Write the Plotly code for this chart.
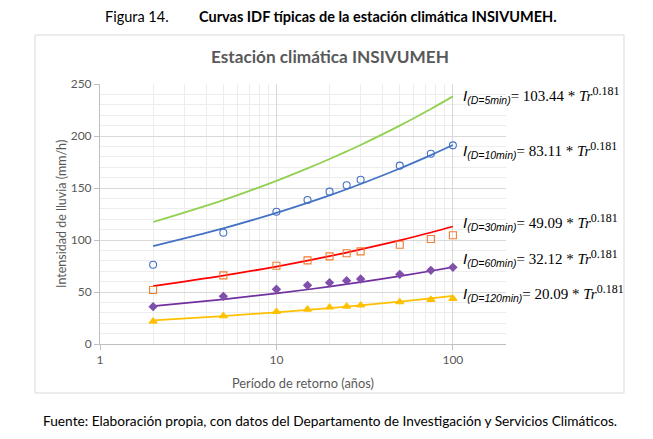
import plotly.graph_objects as go

# return periods (years)
periodos = [2, 5, 10, 15, 20, 25, 30, 50, 75, 100]

# fitted IDF curves (mm/h)
curva_5min = [117.3, 138.4, 156.9, 168.9, 177.9, 185.2, 191.4, 210.0, 226.0, 238.1]
curva_10min = [94.2, 111.2, 126.1, 135.7, 142.9, 148.8, 153.8, 168.7, 181.6, 191.3]
curva_30min = [55.7, 65.7, 74.5, 80.1, 84.4, 87.9, 90.9, 99.7, 107.2, 113.0]
curva_60min = [36.4, 43.0, 48.7, 52.4, 55.2, 57.5, 59.4, 65.2, 70.2, 73.9]
curva_120min = [22.8, 26.9, 30.5, 32.8, 34.6, 36.0, 37.2, 40.8, 43.9, 46.2]

# observed intensities (mm/h)
obs_10min = [76.2, 107.0, 127.2, 138.5, 146.5, 152.6, 158.0, 171.5, 183.0, 191.0]
obs_30min = [51.9, 66.0, 75.3, 80.4, 84.3, 87.2, 89.1, 95.5, 101.0, 104.5]
obs_60min = [35.9, 45.8, 52.6, 56.4, 59.0, 60.9, 62.5, 67.0, 70.8, 73.7]
obs_120min = [21.8, 26.9, 31.0, 33.3, 35.3, 36.2, 37.2, 40.4, 42.6, 43.6]

# equation labels: duration, coefficient, exponent, y position (mm/h)
duraciones = ["5min", "10min", "30min", "60min", "120min"]
coeficientes = ["103.44", "83.11", "49.09", "32.12", "20.09"]
exponente = "0.181"
eq_y = [239.5, 186.5, 117.5, 82.5, 49.0]

x_ticks = [1, 10, 100]
x_minor = [2, 3, 4, 5, 6, 7, 8, 9, 20, 30, 40, 50, 60, 70, 80, 90, 200]

GRAY = "#595959"
FONT = "Lato, Open Sans, sans-serif"

fig = go.Figure()

curvas = [
    (curva_5min, "#92D050"),
    (curva_10min, "#4472C4"),
    (curva_30min, "#FF0000"),
    (curva_60min, "#7030A0"),
    (curva_120min, "#FFC000"),
]
for vals, color in curvas:
    fig.add_trace(go.Scatter(
        x=periodos, y=vals, mode="lines", line=dict(color=color, width=1.75, shape="spline"),
        hoverinfo="skip",
    ))

observados = [
    (obs_10min, "circle-open", "#4472C4", 7),
    (obs_30min, "square-open", "#ED7D31", 7),
    (obs_60min, "diamond", "#7F4FAA", 6),
    (obs_120min, "triangle-up", "#FFC000", 7),
]
for vals, symbol, color, size in observados:
    fig.add_trace(go.Scatter(
        x=periodos, y=vals, mode="markers",
        marker=dict(symbol=symbol, size=size, color=color, line=dict(color=color, width=1.1)),
    ))


def px(x):
    # page pixel -> paper fraction of the plot area
    return (x - 100) / 406


def py(y):
    return (344 - y) / 260


# equation annotations to the right of the plot
for dur, coef, yv in zip(duraciones, coeficientes, eq_y):
    txt = (
        f"<i>I</i><sub><i>(D={dur})</i></sub>"
        f"<span style='font-family:Liberation Serif, serif'>= {coef} * <i>Tr</i>"
        f"<sup><span style='font-size:12px'>{exponente}</span></sup></span>"
    )
    fig.add_annotation(
        text=txt, xref="paper", yref="y", x=px(461), y=yv,
        xanchor="left", yanchor="middle", showarrow=False,
        font=dict(family="Liberation Sans, sans-serif", size=15, color="#000000"),
    )

fig.add_annotation(
    text="Figura 14.", xref="paper", yref="paper", x=px(103), y=py(16),
    xanchor="left", yanchor="middle", showarrow=False,
    font=dict(family=FONT, size=14.5, color="#000000"),
)
fig.add_annotation(
    text="<b>Curvas IDF típicas de la estación climática INSIVUMEH.</b>",
    xref="paper", yref="paper", x=px(197), y=py(16),
    xanchor="left", yanchor="middle", showarrow=False,
    font=dict(family=FONT, size=14.5, color="#000000"),
)
fig.add_annotation(
    text="<b>Estación climática INSIVUMEH</b>", xref="paper", yref="paper",
    x=px(330), y=py(57), xanchor="center", yanchor="middle", showarrow=False,
    font=dict(family=FONT, size=17.2, color=GRAY),
)
fig.add_annotation(
    text="Intensidad de lluvia (mm/h)", xref="paper", yref="paper",
    x=px(61), y=0.5, xanchor="center", yanchor="middle", showarrow=False, textangle=-90,
    font=dict(family=FONT, size=12.5, color=GRAY),
)
fig.add_annotation(
    text="Período de retorno (años)", xref="paper", yref="paper",
    x=px(303), y=py(383), xanchor="center", yanchor="middle", showarrow=False,
    font=dict(family=FONT, size=12.8, color=GRAY),
)
fig.add_annotation(
    text="Fuente: Elaboración propia, con datos del Departamento de Investigación y Servicios Climáticos.",
    xref="paper", yref="paper", x=px(330), y=py(420), xanchor="center", yanchor="middle",
    showarrow=False, font=dict(family=FONT, size=13.7, color="#000000"),
)

# chart area frame
fig.add_shape(
    type="rect", xref="paper", yref="paper", x0=px(35), x1=px(624), y0=py(393), y1=py(35),
    line=dict(color="#D9D9D9", width=1), fillcolor="rgba(0,0,0,0)", layer="below",
)

fig.update_xaxes(
    type="log", range=[0, 2.30103], tickvals=x_ticks, ticktext=[str(v) for v in x_ticks],
    showgrid=True, gridcolor="#D9D9D9", gridwidth=1,
    showline=True, linecolor="#BFBFBF", linewidth=1,
    ticks="outside", ticklen=5, tickcolor="#BFBFBF",
    tickfont=dict(family=FONT, size=12, color=GRAY),
    minor=dict(tickvals=x_minor, showgrid=True, gridcolor="#EDEDED", ticks=""),
    zeroline=False,
)
fig.update_yaxes(
    range=[0, 250], dtick=50, showgrid=True, gridcolor="#D9D9D9", gridwidth=1,
    showline=True, linecolor="#BFBFBF", linewidth=1,
    ticks="outside", ticklen=5, tickcolor="#BFBFBF",
    tickfont=dict(family=FONT, size=12, color=GRAY),
    minor=dict(dtick=10, showgrid=True, gridcolor="#EDEDED", ticks=""),
    zeroline=False,
)

# the page adds an 8px body margin, so the figure is drawn 8px smaller and offset
fig.update_layout(
    width=645, height=431,
    margin=dict(l=92, r=147, t=76, b=95),
    paper_bgcolor="white", plot_bgcolor="white",
    showlegend=False,
)

fig.write_html("out.html")
